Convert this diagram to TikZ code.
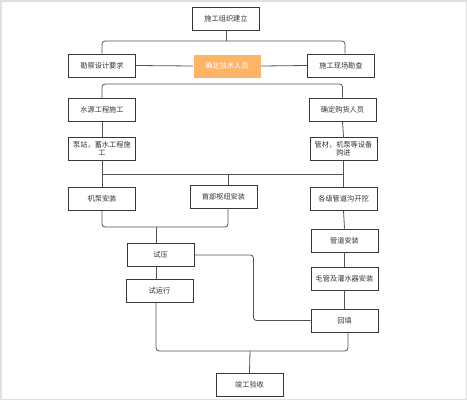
\documentclass[tikz,border=0pt]{standalone}
\usepackage{fontspec}
\newfontfamily\cjk{Noto Sans CJK SC}
\usetikzlibrary{positioning}

\begin{document}
\begin{tikzpicture}[x=1pt, y=-1pt,
    box/.style = {draw=black!78, line width=0.9pt, minimum width=67pt, minimum height=23pt,
                  inner sep=1pt, align=center, text=black!80, font=\cjk\fontsize{7.2}{8.4}\selectfont},
    link/.style = {draw=black!68, line width=0.8pt, rounded corners=3pt}]
\useasboundingbox (0,0) rectangle (467,400);
\draw[black!12, line width=1.5pt] (0.75,0.75) rectangle (466.25,399.25);

\node[box] (zuzhi) at (226,18.5) {施工组织建立};
\node[box] (kancha) at (102,65.5) {勘察设计要求};
\node[box, draw=none, fill={rgb,255:red,255;green,179;blue,102}, text=white] (renyuan) at (227,66) {确定技术人员};
\node[box] (xianchang) at (341,65.5) {施工现场勘查};
\node[box] (shuiyuan) at (102,110) {水源工程施工};
\node[box] (gouhuo) at (342.5,109.5) {确定购货人员};
\node[box] (bengzhan) at (102,148.5) {泵站，蓄水工程施\\工};
\node[box] (guancai) at (343.5,149) {管材，机泵等设备\\购进};
\node[box, line width=1.3pt] (jibeng) at (102,199) {机泵安装};
\node[box] (shoubu) at (223.5,196.5) {首部枢纽安装};
\node[box] (goukaiwa) at (343.5,198.5) {各级管道沟开挖};
\node[box] (shiya) at (160.5,255) {试压};
\node[box] (guandao) at (344.5,240.5) {管道安装};
\node[box] (shiyunxing) at (159.5,290.5) {试运行};
\node[box] (maoguan) at (344.5,278.5) {毛管及灌水器安装};
\node[box] (huitian) at (344.5,320.5) {回填};
\node[box] (jungong) at (249.5,385) {竣工验收};

\coordinate (t_1) at (226,41);
\coordinate (t_2) at (228,174);
\coordinate (t_3) at (156,227);
\coordinate (t_4) at (250,351);

\draw[link] (zuzhi.south) -- (t_1);
\draw[link] (kancha.north) |- (t_1) -| ([xshift=4pt]xianchang.north);
\path[link] (kancha.east) edge (renyuan.west)
    (renyuan.east) edge (xianchang.west);
\draw[link] (shuiyuan.north) -- ++(0,-14) -| (gouhuo.north);
\path[link] (shuiyuan.south) edge (bengzhan.north)
    (gouhuo.south) edge (guancai.north);
\draw[link] (bengzhan.south) -- (jibeng.north);
\draw[link] (bengzhan.south |- t_2) -- (guancai.south |- t_2);
\draw[link] (t_2) -- (t_2 |- shoubu.north);
\draw[link] (guancai.south) -- (goukaiwa.north);
\draw[link] (jibeng.south) |- (t_3) -| (t_2 |- shoubu.south);
\draw[link] (t_3) -- (t_3 |- shiya.north);
\draw[link] (t_3 |- shiya.south) -- (t_3 |- shiyunxing.north);
\draw[link] (shiya.east) -- ++(59,0) |- (huitian.west);
\path[link] (goukaiwa.south) edge (guandao.north)
    (guandao.south) edge (maoguan.north)
    (maoguan.south) edge (huitian.north);
\draw[link] (t_3 |- shiyunxing.south) |- (t_4) -| ([xshift=3.5pt]huitian.south);
\draw[link] (t_4) -- (jungong.north);
\end{tikzpicture}
\end{document}
